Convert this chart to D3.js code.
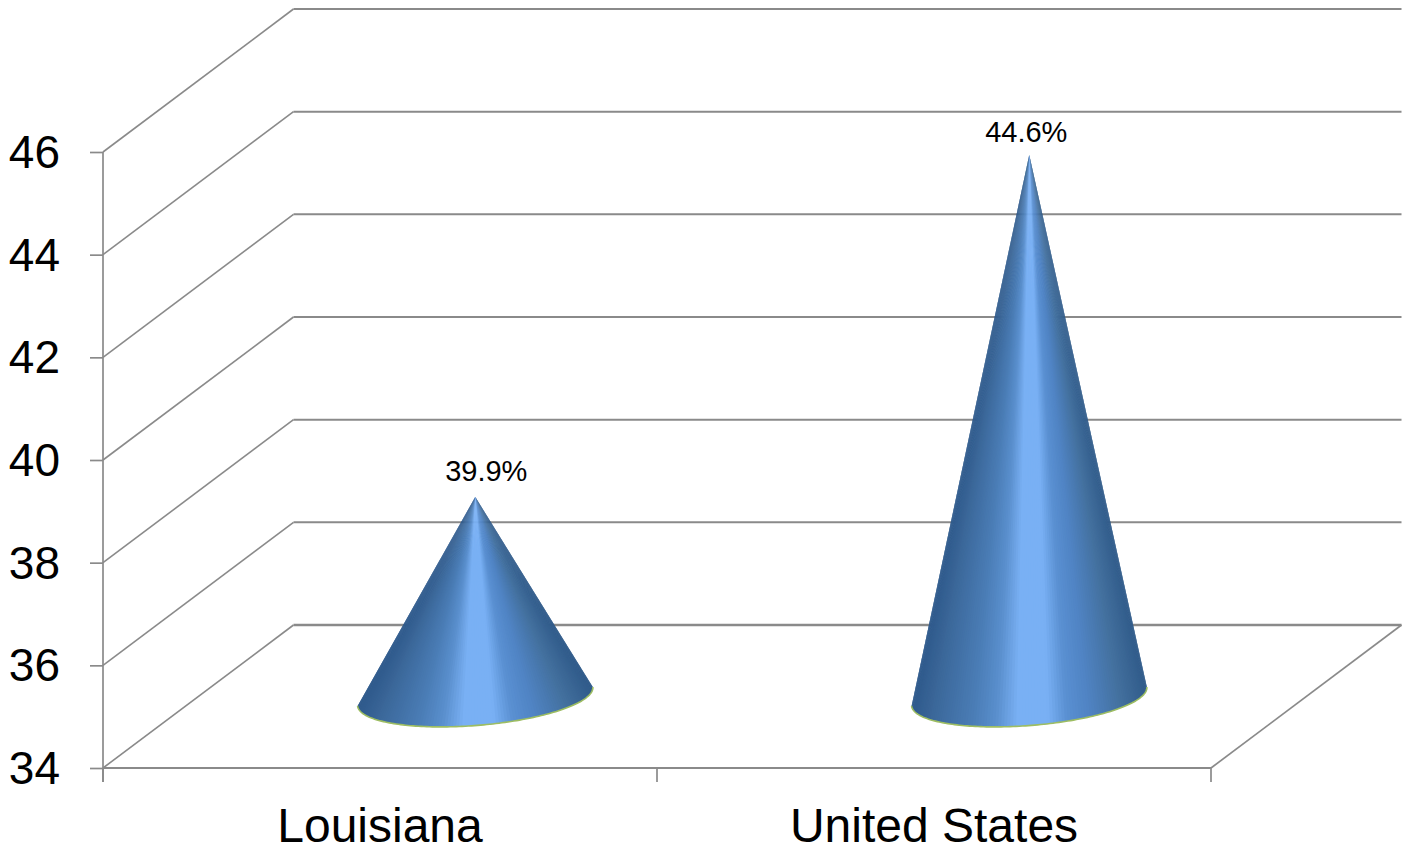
<!DOCTYPE html>
<html>
<head>
<meta charset="utf-8">
<script src="https://cdnjs.cloudflare.com/ajax/libs/d3/7.8.5/d3.min.js"></script>
<style>
  html, body { margin: 0; padding: 0; background: #fff; overflow: hidden; }
  svg { display: block; }
  text { font-family: "Liberation Sans", Arial, sans-serif; fill: #000; }
</style>
</head>
<body>
<script>
// Chart content
const categories = ["Louisiana", "United States"];
const seriesValues = [39.9, 44.6];
const valueLabels = ["39.9%", "44.6%"];
const yTicks = [34, 36, 38, 40, 42, 44, 46];

const width = 1402, height = 851;
const gridColor = "#8a8a8a";

// Oblique 3-D box: the back wall is the front plane shifted by this depth vector
const depth = { x: 190.5, y: -143 };

const x = d3.scaleBand().domain(categories).range([103, 1211]);
const y = d3.scaleLinear().domain([34, 46]).range([768, 152]);

// Cone apexes are foreshortened by the view, so height has its own scale
const apexY = d3.scaleLinear().domain([34, 46]).range([926.3, 53.1]);

// Base ellipse of each cone, sitting midway through the depth of the floor
const base = { rx: 118, ry: 29, tilt: -4.6 * Math.PI / 180 };
const baseY = y(34) + depth.y / 2;

// Surface shading across the cone, -1 at the left silhouette to 1 at the right
const shade = d3.scaleLinear()
  .domain([-1, -0.84, -0.5, -0.3, -0.12, 0.14, 0.3, 0.5, 0.76, 1])
  .range(["#2f5a8c", "#3b6799", "#4a7db6", "#5a8fcd", "#79b0f4", "#79b0f4", "#5a90d2", "#4f83c3", "#44719f", "#305b8a"]);

const svg = d3.select("body").append("svg")
  .attr("width", width).attr("height", height)
  .attr("viewBox", [0, 0, width, height]);

// Back wall gridlines and the diagonals running along the left wall
const grid = svg.append("g").attr("fill", "none").attr("stroke", gridColor);
grid.selectAll("line.back").data(yTicks).join("line")
  .attr("class", "back")
  .attr("x1", 103 + depth.x).attr("x2", 1211 + depth.x)
  .attr("y1", d => y(d) + depth.y).attr("y2", d => y(d) + depth.y)
  .attr("stroke-width", d => d === 34 ? 2.4 : 2);
grid.selectAll("line.side").data(yTicks).join("line")
  .attr("class", "side")
  .attr("x1", 103).attr("x2", 103 + depth.x)
  .attr("y1", d => y(d)).attr("y2", d => y(d) + depth.y)
  .attr("stroke-width", 1.6);

// Right edge of the floor
grid.append("line")
  .attr("x1", 1211).attr("y1", y(34))
  .attr("x2", 1211 + depth.x).attr("y2", y(34) + depth.y)
  .attr("stroke-width", 1.7);

// Value axis
const yAxis = svg.append("g")
  .attr("transform", "translate(103,0)")
  .call(d3.axisLeft(y).tickValues(yTicks).tickSize(13).tickPadding(30));
yAxis.select(".domain").remove();
yAxis.selectAll(".tick line").attr("stroke", gridColor).attr("stroke-width", 1.7);
yAxis.selectAll(".tick text")
  .attr("font-size", 46).attr("dy", "0.34em")
  .style("font-family", '"Liberation Sans", Arial, sans-serif');
yAxis.append("line")
  .attr("y1", y(46)).attr("y2", 782)
  .attr("stroke", gridColor).attr("stroke-width", 1.7);

// Category axis, with ticks on the band edges
const xAxis = svg.append("g").attr("transform", `translate(0,${y(34)})`);
xAxis.append("line")
  .attr("x1", 103).attr("x2", 1211)
  .attr("stroke", gridColor).attr("stroke-width", 1.9);
xAxis.selectAll("line.tick").data([...categories.map(c => x(c)), x.range()[1]]).join("line")
  .attr("class", "tick")
  .attr("x1", d => d).attr("x2", d => d)
  .attr("y1", 0).attr("y2", 14)
  .attr("stroke", gridColor).attr("stroke-width", 1.7);
xAxis.selectAll("text").data(categories).join("text")
  .attr("x", d => x(d) + x.bandwidth() / 2)
  .attr("y", 74)
  .attr("text-anchor", "middle")
  .attr("font-size", 48)
  .text(d => d);

// Point on the tilted base ellipse at parameter t (0 = right end, PI = left end, through the front)
function basePoint(cx, t) {
  const ex = base.rx * Math.cos(t), ey = base.ry * Math.sin(t);
  return [
    cx + ex * Math.cos(base.tilt) - ey * Math.sin(base.tilt),
    baseY + ex * Math.sin(base.tilt) + ey * Math.cos(base.tilt)
  ];
}

// Cones: facets fanning from the apex give the shading that converges at the tip.
// Each facet reaches one step past its own edge so the next one covers the seam.
const facetCount = 120;
const facets = d3.range(facetCount);
const cones = svg.append("g");
categories.forEach((cat, i) => {
  const cx = x(cat) + x.bandwidth() / 2 + depth.x / 2;
  const apex = [cx, apexY(seriesValues[i])];
  const g = cones.append("g");

  g.selectAll("path").data(facets).join("path")
    .attr("d", k => {
      const ts = [k, k + 1, Math.min(k + 2, facetCount)].map(s => Math.PI * s / facetCount);
      return d3.line()([apex, ...ts.map(t => basePoint(cx, t))]) + "Z";
    })
    .attr("fill", k => shade(Math.cos(Math.PI * ((k + 0.5) / facetCount))));

  // Green rim along the front of the base
  g.append("path")
    .attr("d", d3.line()(d3.range(0, 121).map(k => basePoint(cx, Math.PI * k / 120))))
    .attr("fill", "none")
    .attr("stroke", "#9dbd62")
    .attr("stroke-width", 1.6);

  // Value label above the apex
  svg.append("text")
    .attr("x", cx + (i === 0 ? 11 : -3))
    .attr("y", apex[1] - (i === 0 ? 16 : 13))
    .attr("text-anchor", "middle")
    .attr("font-size", 29)
    .text(valueLabels[i]);
});
</script>
</body>
</html>
